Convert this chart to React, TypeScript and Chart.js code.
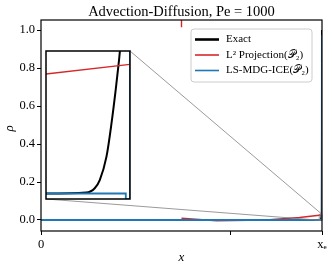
import React, { useEffect, useRef } from 'react';
import { Chart, registerables } from 'chart.js';

Chart.register(...registerables);

// ---------- text ----------
const TITLE = 'Advection-Diffusion, Pe = 1000';
const X_LABEL = 'x';
const Y_LABEL = 'ρ';
const SERIES_NAMES = ['Exact', 'L² Projection(𝒫₂)', 'LS-MDG-ICE(𝒫₂)'];
const X_TICK_VALUES = [0, 0.676, 1];
const X_TICK_LABELS = ['0', '', 'xₑ'];
const Y_TICK_VALUES = [0, 0.2, 0.4, 0.6, 0.8, 1.0];

// ---------- data ----------
const exactX = [0, 0.99, 0.9948, 0.9958, 0.9964, 0.9972, 0.9978, 0.9983, 0.9987, 0.999, 0.9992, 0.9995, 0.9998, 1.0];
const exactY = [0, 0, 0.0002, 0.0011, 0.0028, 0.0077, 0.0147, 0.0217, 0.028, 0.0327, 0.036, 0.2, 0.5, 1.0];

const l2X = [0, 0.498, 0.5, 0.5, 0.5, 0.5, 0.5, 0.625, 0.8, 0.92, 0.99, 1.0];
const l2Y = [0, 0, null, 1.015, 1.2, null, 0.009, -0.004, 0.0, 0.013, 0.025, 0.027];

const mdgX = [0, 0.9995, 0.9995, 1.0, 1.0];
const mdgY = [0, 0, -0.0012, -0.0012, 0.974];

const X_RANGE = [0, 1];
const Y_RANGE = [-0.058, 1.053];
const INSET_X_RANGE = [0.99, 1.0];
const INSET_Y_RANGE = [-0.00115, 0.0298];

// ---------- style ----------
const COLORS = ['#000000', '#d62728', '#1f77b4'];
const WIDTHS = [2.0, 1.4, 1.8];
const SERIF = "'Liberation Serif', 'DejaVu Serif', serif";
const W = 332;
const H = 270;
const INSET = { left: 46, top: 51, width: 84, height: 148 };

const toPts = (xs: number[], ys: (number | null)[]) => xs.map((x, i) => ({ x, y: ys[i] }));

function makeDatasets() {
  const all = [toPts(exactX, exactY), toPts(l2X, l2Y), toPts(mdgX, mdgY)];
  return all.map((data, i) => ({
    label: SERIES_NAMES[i],
    data,
    borderColor: COLORS[i],
    backgroundColor: COLORS[i],
    borderWidth: WIDTHS[i],
    pointRadius: 0,
    tension: 0,
    cubicInterpolationMode: i === 0 ? 'monotone' : 'default',
    spanGaps: false,
    clip: 0,
    order: 3 - i,
  }));
}

const mainPlugin = {
  id: 'mainDecor',
  beforeDraw(chart: any) {
    const ctx = chart.ctx;
    ctx.save();
    ctx.fillStyle = '#ffffff';
    ctx.fillRect(0, 0, chart.width, chart.height);
    ctx.restore();
  },
  afterDatasetsDraw(chart: any) {
    const { ctx, chartArea: a, scales } = chart;
    const xs = scales.x;
    const ys = scales.y;
    ctx.save();
    // zoom indicator + connectors
    const rx0 = xs.getPixelForValue(INSET_X_RANGE[0]);
    const rx1 = xs.getPixelForValue(INSET_X_RANGE[1]);
    const ry0 = ys.getPixelForValue(INSET_Y_RANGE[0]);
    const ry1 = ys.getPixelForValue(INSET_Y_RANGE[1]);
    ctx.strokeStyle = '#808080';
    ctx.lineWidth = 0.8;
    ctx.strokeRect(rx0, ry1, rx1 - rx0, ry0 - ry1);
    ctx.beginPath();
    ctx.moveTo(INSET.left + INSET.width, INSET.top);
    ctx.lineTo(rx1, ry1);
    ctx.moveTo(INSET.left, INSET.top + INSET.height);
    ctx.lineTo(rx0, ry0);
    ctx.stroke();

    // spines
    ctx.strokeStyle = '#000000';
    ctx.lineWidth = 1.2;
    ctx.strokeRect(a.left, a.top, a.right - a.left, a.bottom - a.top);

    // legend
    const LX = 191, LY = 29, LW = 121, LH = 53, r = 3;
    ctx.beginPath();
    ctx.moveTo(LX + r, LY);
    ctx.arcTo(LX + LW, LY, LX + LW, LY + LH, r);
    ctx.arcTo(LX + LW, LY + LH, LX, LY + LH, r);
    ctx.arcTo(LX, LY + LH, LX, LY, r);
    ctx.arcTo(LX, LY, LX + LW, LY, r);
    ctx.closePath();
    ctx.fillStyle = 'rgba(255,255,255,0.8)';
    ctx.fill();
    ctx.strokeStyle = '#cccccc';
    ctx.lineWidth = 1;
    ctx.stroke();
    const rows = [39.5, 55, 70.5];
    ctx.font = `11px ${SERIF}`;
    ctx.textBaseline = 'middle';
    ctx.textAlign = 'left';
    SERIES_NAMES.forEach((name, i) => {
      ctx.beginPath();
      ctx.strokeStyle = COLORS[i];
      ctx.lineWidth = i === 0 ? 2.6 : 1.6;
      ctx.moveTo(195, rows[i]);
      ctx.lineTo(219, rows[i]);
      ctx.stroke();
      ctx.fillStyle = '#000000';
      ctx.fillText(name, 226, rows[i]);
    });

    // titles
    ctx.fillStyle = '#000000';
    ctx.textAlign = 'center';
    ctx.textBaseline = 'alphabetic';
    ctx.font = `14.5px ${SERIF}`;
    ctx.fillText(TITLE, (a.left + a.right) / 2, 16);
    ctx.font = `italic 13px ${SERIF}`;
    ctx.fillText(X_LABEL, (a.left + a.right) / 2, 261);
    ctx.translate(13, (a.top + a.bottom) / 2 + 3);
    ctx.rotate(-Math.PI / 2);
    ctx.textBaseline = 'alphabetic';
    ctx.fillText(Y_LABEL, 0, 0);
    ctx.restore();
  },
};

const insetPlugin = {
  id: 'insetDecor',
  beforeDraw(chart: any) {
    const { ctx, chartArea: a } = chart;
    ctx.save();
    ctx.fillStyle = '#ffffff';
    ctx.fillRect(a.left, a.top, a.right - a.left, a.bottom - a.top);
    ctx.restore();
  },
  afterDatasetsDraw(chart: any) {
    const { ctx, chartArea: a } = chart;
    ctx.save();
    ctx.strokeStyle = '#000000';
    ctx.lineWidth = 1.5;
    ctx.strokeRect(a.left, a.top, a.right - a.left, a.bottom - a.top);
    ctx.restore();
  },
};

export default function App() {
  const mainRef = useRef<HTMLCanvasElement | null>(null);
  const insetRef = useRef<HTMLCanvasElement | null>(null);

  useEffect(() => {
    const tickFont = { family: SERIF, size: 12.5 };
    const main = new Chart(mainRef.current as HTMLCanvasElement, {
      type: 'line',
      data: { datasets: makeDatasets() as any },
      plugins: [mainPlugin],
      options: {
        animation: false,
        responsive: false,
        devicePixelRatio: 1,
        layout: { padding: { top: 20, right: 10, left: 0, bottom: 0 } },
        plugins: { legend: { display: false }, tooltip: { enabled: false }, title: { display: false } },
        scales: {
          x: {
            type: 'linear',
            min: X_RANGE[0],
            max: X_RANGE[1],
            afterBuildTicks: (s: any) => { s.ticks = X_TICK_VALUES.map((v) => ({ value: v })); },
            afterFit: (s: any) => { s.height = 39; },
            ticks: {
              autoSkip: false,
              maxRotation: 0,
              padding: 2,
              color: '#000000',
              font: tickFont,
              callback: (v: any) => {
                const i = X_TICK_VALUES.indexOf(Number(v));
                return i >= 0 ? X_TICK_LABELS[i] : '';
              },
            },
            grid: { drawOnChartArea: false, drawTicks: true, tickLength: 4, color: '#000000', lineWidth: 1 },
            border: { display: false },
          },
          y: {
            type: 'linear',
            min: Y_RANGE[0],
            max: Y_RANGE[1],
            afterBuildTicks: (s: any) => { s.ticks = Y_TICK_VALUES.map((v) => ({ value: v })); },
            afterFit: (s: any) => { s.width = 41; },
            ticks: {
              autoSkip: false,
              padding: 2,
              color: '#000000',
              font: tickFont,
              callback: (v: any) => Number(v).toFixed(1),
            },
            grid: { drawOnChartArea: false, drawTicks: true, tickLength: 4, color: '#000000', lineWidth: 1 },
            border: { display: false },
          },
        },
      } as any,
    });

    const inset = new Chart(insetRef.current as HTMLCanvasElement, {
      type: 'line',
      data: { datasets: makeDatasets() as any },
      plugins: [insetPlugin],
      options: {
        animation: false,
        responsive: false,
        devicePixelRatio: 1,
        layout: { padding: 1 },
        plugins: { legend: { display: false }, tooltip: { enabled: false } },
        scales: {
          x: { type: 'linear', display: false, min: INSET_X_RANGE[0], max: INSET_X_RANGE[1] },
          y: { type: 'linear', display: false, min: INSET_Y_RANGE[0], max: INSET_Y_RANGE[1] },
        },
      } as any,
    });

    return () => {
      main.destroy();
      inset.destroy();
    };
  }, []);

  return (
    <div style={{ position: 'absolute', left: 0, top: 0, width: W, height: H, background: '#fff' }}>
      <canvas ref={mainRef} width={W} height={H} style={{ position: 'absolute', left: 0, top: 0, width: W, height: H }} />
      <canvas
        ref={insetRef}
        width={INSET.width + 2}
        height={INSET.height + 2}
        style={{ position: 'absolute', left: INSET.left - 1, top: INSET.top - 1, width: INSET.width + 2, height: INSET.height + 2 }}
      />
    </div>
  );
}
